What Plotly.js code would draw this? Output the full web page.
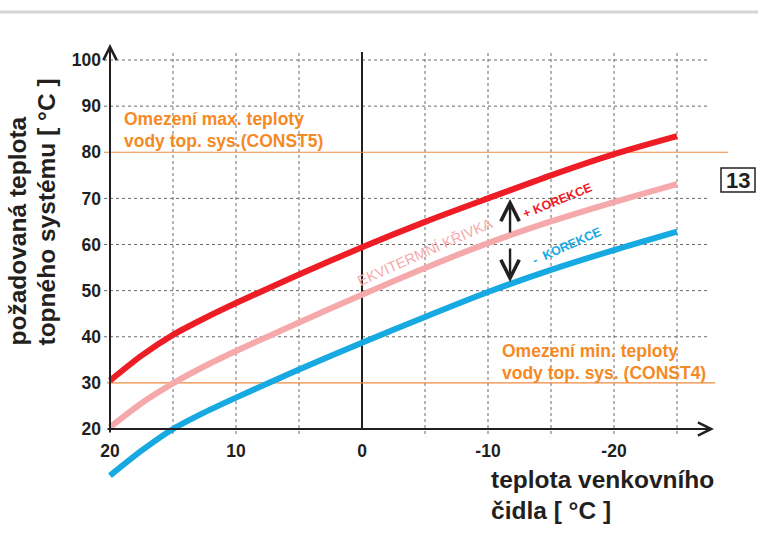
<!DOCTYPE html>
<html>
<head>
<meta charset="utf-8">
<script src="https://cdn.plot.ly/plotly-3.0.1.min.js"></script>
<style>html,body{margin:0;padding:0;background:#fff;}#chart{width:758px;height:547px;}</style>
</head>
<body>
<div id="chart"></div>
<script>
// ---- data ----
const outdoorTemp     = [20, 17.5, 15, 12.5, 10, 5, 0, -5, -10, -15, -20, -25];
const plusCorrection  = [30.5, 35.9, 40.4, 44.0, 47.3, 53.5, 59.4, 64.9, 70.0, 75.0, 79.6, 83.5];
const heatingCurve    = [20.4, 25.6, 29.9, 33.6, 36.9, 43.1, 49.1, 54.9, 60.3, 65.0, 69.2, 73.1];
const minusCorrection = [9.9, 15.3, 20.0, 23.6, 26.8, 32.9, 38.7, 44.3, 49.7, 54.5, 58.8, 62.8];
const maxLimit = 80;
const minLimit = 30;
const xTickVals = [20, 10, 0, -10, -20];
const xTickText = ['20', '10', '0', '-10', '-20'];
const yTickVals = [20, 30, 40, 50, 60, 70, 80, 90, 100];
const yTickText = ['20', '30', '40', '50', '60', '70', '80', '90', '100'];
const xGrid = [15, 10, 5, -5, -10, -15, -20, -25];
const yGrid = [40, 50, 60, 70, 90, 100];

// ---- layout helpers (pixel -> coordinate for text placement) ----
const L = 100, R = 28, T = 40, B = 67, W = 758, H = 547;
const PW = W - L - R, PH = H - T - B;
const xr = [20 + 10/12.6, 20 - 620/12.6];
const yr = [20 - 51/4.6125, 20 + 389/4.6125];
const dx = px => 20 - (px - 110) / 12.6;
const dy = py => 20 + (429 - py) / 4.6125;
const ppx = px => (px - L) / PW;
const ppy = py => (H - B - py) / PH;

const FONT = 'Liberation Sans, Arial, Helvetica, sans-serif';
const RED = '#ee1c25', PINK = '#f5a9ab', BLUE = '#16a9e2', ORANGE = '#f58a24', OLINE = '#ef8a3e', INK = '#231f20';

const traces = [
  {x: outdoorTemp, y: heatingCurve, mode: 'lines', line: {color: PINK, width: 6, shape: 'spline', smoothing: 0.7}, hoverinfo: 'skip'},
  {x: outdoorTemp, y: plusCorrection, mode: 'lines', line: {color: RED, width: 6, shape: 'spline', smoothing: 0.7}, hoverinfo: 'skip'},
  {x: outdoorTemp, y: minusCorrection, mode: 'lines', line: {color: BLUE, width: 6, shape: 'spline', smoothing: 0.7}, hoverinfo: 'skip'}
];

const shapes = [];
// top grey rule
shapes.push({type: 'line', xref: 'paper', yref: 'paper', x0: ppx(0), x1: ppx(758), y0: ppy(12), y1: ppy(12), line: {color: '#d6d6d6', width: 3}});
// dotted grid
xGrid.forEach(v => shapes.push({type: 'line', xref: 'x', yref: 'y', x0: v, x1: v, y0: dy(434), y1: dy(52), line: {color: '#6a6a6a', width: 1, dash: 'dot'}, layer: 'below'}));
yGrid.forEach(v => shapes.push({type: 'line', xref: 'x', yref: 'y', x0: dx(104), x1: dx(707), y0: v, y1: v, line: {color: '#6a6a6a', width: 1, dash: 'dot'}, layer: 'below'}));
// zero line
shapes.push({type: 'line', xref: 'x', yref: 'y', x0: 0, x1: 0, y0: 20, y1: dy(52), line: {color: INK, width: 2}, layer: 'below'});
// limits
shapes.push({type: 'line', xref: 'x', yref: 'y', x0: dx(104), x1: dx(728), y0: maxLimit, y1: maxLimit, line: {color: OLINE, width: 1.2}, layer: 'below'});
shapes.push({type: 'line', xref: 'x', yref: 'y', x0: dx(107), x1: dx(715), y0: minLimit, y1: minLimit, line: {color: OLINE, width: 1.2}, layer: 'below'});
// box for "13"
shapes.push({type: 'rect', xref: 'paper', yref: 'paper', x0: ppx(721), x1: ppx(755), y0: ppy(192), y1: ppy(168), line: {color: INK, width: 1.5}});

const ann = [];
const arrow = (xh, yh, xt, yt) => ({x: xh, y: yh, ax: xt, ay: yt, xref: 'x', yref: 'y', axref: 'x', ayref: 'y', text: '', showarrow: true, arrowhead: 5, arrowsize: 1.3, arrowwidth: 2, arrowcolor: INK, standoff: 0});
// axis arrows
ann.push(arrow(dx(714), 20, dx(106), 20));
ann.push(arrow(20, dy(44), 20, dy(434)));
// correction arrows
const arrowX = -11.75;
ann.push(Object.assign(arrow(arrowX, dy(199), arrowX, dy(234)), {arrowwidth: 2.4, arrowsize: 1.5}));
ann.push(Object.assign(arrow(arrowX, dy(282), arrowX, dy(247)), {arrowwidth: 2.4, arrowsize: 1.5}));

const txt = (text, x, y, opts) => Object.assign({text, x, y, xref: 'x', yref: 'y', showarrow: false}, opts);
const oFont = {family: FONT, size: 17.5, color: ORANGE, weight: 'bold'};
ann.push(txt('Omezení max. teploty', dx(122), dy(119), {xanchor: 'left', yanchor: 'middle', font: oFont}));
ann.push(txt('vody top. sys.(CONST5)', dx(122), dy(141), {xanchor: 'left', yanchor: 'middle', font: oFont}));
ann.push(txt('Omezení min. teploty', dx(500), dy(351), {xanchor: 'left', yanchor: 'middle', font: oFont}));
ann.push(txt('vody top. sys. (CONST4)', dx(500), dy(373), {xanchor: 'left', yanchor: 'middle', font: oFont}));
ann.push(txt('EKVITERMNÍ KŘIVKA', dx(425), dy(252), {xanchor: 'center', yanchor: 'middle', textangle: -24, font: {family: FONT, size: 14.5, color: PINK}}));
ann.push(txt('+ KOREKCE', dx(557), dy(201), {xanchor: 'center', yanchor: 'middle', textangle: -22, font: {family: FONT, size: 12.5, color: RED, weight: 'bold'}}));
ann.push(txt('-  KOREKCE', dx(567), dy(246), {xanchor: 'center', yanchor: 'middle', textangle: -24, font: {family: FONT, size: 12.5, color: BLUE, weight: 'bold'}}));
// 13
ann.push({text: '13', xref: 'paper', yref: 'paper', x: ppx(738), y: ppy(180), xanchor: 'center', yanchor: 'middle', showarrow: false, font: {family: FONT, size: 22, color: INK, weight: 'bold'}});
// axis titles
const tFont = {family: FONT, size: 24.5, color: INK, weight: 'bold'};
ann.push({text: 'teplota venkovního', xref: 'paper', yref: 'paper', x: ppx(489), y: ppy(479), xanchor: 'left', yanchor: 'middle', showarrow: false, font: tFont});
ann.push({text: 'čidla [ °C ]', xref: 'paper', yref: 'paper', x: ppx(489), y: ppy(510), xanchor: 'left', yanchor: 'middle', showarrow: false, font: tFont});
ann.push({text: 'požadovaná teplota', xref: 'paper', yref: 'paper', x: ppx(17), y: ppy(348), xanchor: 'center', yanchor: 'bottom', textangle: -90, showarrow: false, font: tFont});
ann.push({text: 'topného systému [ °C ]', xref: 'paper', yref: 'paper', x: ppx(46), y: ppy(348), xanchor: 'center', yanchor: 'bottom', textangle: -90, showarrow: false, font: tFont});

const tickFont = {family: FONT, size: 17.5, color: INK, weight: 'bold'};
const layout = {
  width: W, height: H,
  margin: {l: L, r: R, t: T, b: B, pad: 0},
  paper_bgcolor: '#fff', plot_bgcolor: 'rgba(0,0,0,0)',
  showlegend: false,
  xaxis: {range: xr, anchor: 'free', position: ppy(429), showgrid: false, zeroline: false, showline: false,
          tickmode: 'array', tickvals: xTickVals, ticktext: xTickText, ticks: '', ticklabelstandoff: 9, tickfont: tickFont, fixedrange: true},
  yaxis: {range: yr, anchor: 'free', position: ppx(110), showgrid: false, zeroline: false, showline: false,
          tickmode: 'array', tickvals: yTickVals, ticktext: yTickText, ticks: '', ticklabelstandoff: 9, tickfont: tickFont, fixedrange: true},
  shapes: shapes,
  annotations: ann
};

Plotly.newPlot('chart', traces, layout, {staticPlot: true, displayModeBar: false});
</script>
</body>
</html>
